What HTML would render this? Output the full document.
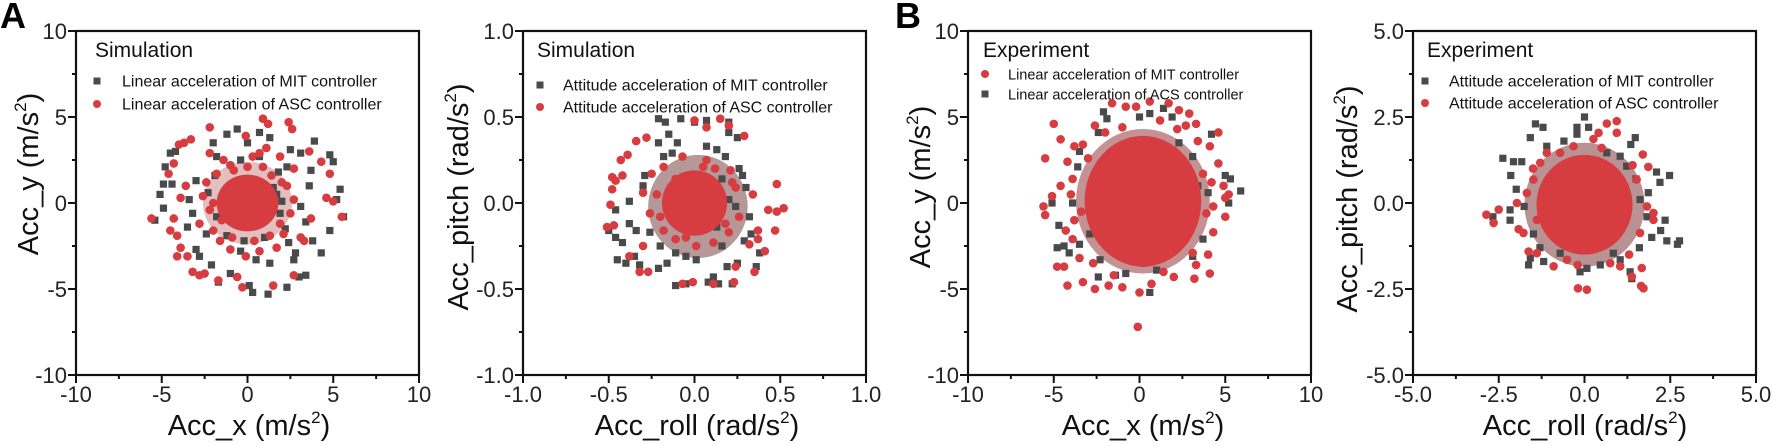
<!DOCTYPE html>
<html><head><meta charset="utf-8"><style>
html,body{margin:0;padding:0;background:#fff;}
svg{display:block;font-family:"Liberation Sans",Arial,sans-serif;}
</style></head><body>
<svg id="fig" width="1772" height="446" viewBox="0 0 1772 446" xmlns="http://www.w3.org/2000/svg">
<text x="0" y="28" font-size="36" font-weight="bold">A</text>
<text x="895" y="28" font-size="36" font-weight="bold">B</text>
</svg>
<script>
// ---------- data ----------
const p1Ticks = [-10,-5,0,5,10];
const p1TickLabels = ["-10","-5","0","5","10"];
const p1Mit = [[-0.6,4.3],[-1.2,4.0],[0.7,4.1],[1.3,3.8],[3.9,3.6],[-4.2,3.0],[-4.5,2.9],[-4.8,2.1],[-4.9,1.1],[-4.4,1.1],[-5.1,0.5],[-4.9,-0.3],[-5.4,-1.0],[5.0,2.4],[4.8,2.8],[5.4,0.8],[5.2,0.2],[5.6,-0.8],[4.3,-2.9],[3.8,-2.2],[4.8,-1.6],[3.4,-4.2],[3.0,-4.3],[2.3,-4.9],[1.2,-5.3],[0.3,-5.2],[0.1,-4.8],[-1.7,-4.6],[-1.0,-4.1],[-2.1,-3.6],[-3.0,-2.7],[-3.5,-1.4],[-3.4,0.2],[-3.2,-0.6],[-3.0,1.3],[-2.0,3.5],[-1.8,2.7],[2.5,3.1],[3.1,2.9],[2.3,2.1],[3.7,1.9],[3.6,1.0],[3.1,-0.2],[3.4,-1.1],[2.8,-2.9],[2.7,-3.3],[1.3,-3.5],[0.5,-3.3],[-0.4,-2.8],[-2.8,-3.1],[-2.4,-1.8],[-0.8,0.9],[1.5,0.9],[1.9,-0.6],[-1.8,-0.8],[-0.4,2.5],[0.7,2.7],[0,3.5],[1.7,0.5],[0.5,-1.2],[2.2,-1.5],[-1.2,-1.9],[1.0,-2.0],[-2.3,0.6],[1.8,1.8],[-1.9,1.6],[2.4,-2.3],[-0.2,-2.2],[2.0,0.1]];
const p1Asc = [[0.9,4.9],[1.2,4.6],[2.4,4.7],[2.6,4.3],[-2.2,4.4],[-0.1,3.9],[-3.3,3.7],[-3.7,3.5],[-4.0,3.4],[-4.3,2.3],[-4.6,1.7],[-3.6,1.0],[-3.9,0.3],[-5.6,-0.9],[-4.3,-0.9],[-4.5,-1.6],[-4.1,-1.9],[-3.9,-2.6],[-4.1,-3.1],[-3.5,-3.1],[-3.2,-4.0],[-2.8,-4.2],[-2.5,-4.1],[-1.7,-4.5],[-0.6,-4.3],[-0.3,-4.9],[1.5,-4.8],[2.7,-4.2],[3.6,3.0],[4.3,2.4],[4.8,1.7],[4.6,0.3],[5.0,0.1],[5.5,-0.8],[3.7,-0.9],[3.1,-2.0],[3.3,-2.2],[0.7,2.9],[1.1,3.2],[1.9,2.7],[2.7,2.0],[-2.6,0.4],[-2.8,-1.2],[-2.2,-0.4],[-1.6,-2.2],[-1.0,-2.7],[-0.1,-3.1],[0.7,-2.8],[1.7,-2.6],[2.1,-1.8],[2.7,0.2],[2.5,-0.6],[-0.8,1.9],[-1.8,1.7],[-2.2,2.9],[-1.4,2.5],[0,2.1],[0.3,2.7],[1.4,1.6],[2.0,1.2],[-2.0,-1.6],[0.4,-2.2],[1.3,-1.9],[-2.4,1.2],[-1.5,-1.0],[2.3,1.0],[-0.9,-2.0],[1.9,-1.2],[-2.0,0.0],[0.9,2.1],[-1.0,2.2]];
const p1Mid = [0,0,2.6,2.4];
const p1Core = [0,0,1.8,1.65];

const p2Ticks = [-1,-0.5,0,0.5,1];
const p2TickLabels = ["-1.0","-0.5","0.0","0.5","1.0"];
const p2Mit = [[-0.21,0.49],[-0.17,0.47],[-0.08,0.49],[0,0.47],[0.07,0.48],[0.2,0.47],[0.2,0.41],[0.25,0.38],[-0.15,0.40],[-0.21,0.35],[-0.1,0.35],[-0.29,0.16],[-0.3,0.1],[-0.38,0.01],[-0.46,-0.04],[-0.5,-0.16],[-0.46,-0.2],[-0.42,-0.23],[-0.38,-0.12],[-0.34,-0.16],[-0.45,-0.33],[-0.4,-0.35],[-0.35,-0.31],[-0.32,-0.36],[-0.21,-0.38],[-0.16,-0.35],[-0.11,-0.48],[-0.05,-0.47],[0.08,-0.46],[0.11,-0.43],[0.14,-0.47],[0.22,-0.47],[0.19,-0.37],[0.25,-0.35],[0.36,-0.37],[0.38,-0.29],[0.33,-0.18],[0.32,-0.08],[0.3,0.09],[0.28,0.16],[0.18,0.27],[0.13,0.31],[0.07,0.33],[-0.05,-0.31],[0.01,-0.33],[-0.11,-0.29],[0.16,-0.25],[0.2,0.02],[0.16,0.14],[-0.2,-0.25],[-0.26,-0.17],[-0.18,0.27],[-0.13,0.29],[0.13,-0.14],[0.24,-0.02],[0.26,0.2],[0.29,-0.22]];
const p2Asc = [[0,0.48],[0.07,0.44],[0.15,0.49],[0.2,0.45],[0.29,0.39],[-0.28,0.38],[-0.34,0.36],[-0.39,0.28],[-0.43,0.25],[-0.42,0.16],[-0.48,0.15],[-0.46,0.13],[-0.48,0.08],[-0.49,-0.01],[-0.51,-0.14],[-0.47,-0.13],[-0.38,-0.31],[-0.32,-0.4],[-0.27,-0.4],[-0.3,-0.25],[-0.07,-0.47],[-0.01,-0.46],[0.11,-0.47],[0.23,-0.46],[0.24,-0.37],[0.35,-0.4],[0.41,-0.28],[0.37,-0.21],[0.37,-0.16],[0.32,-0.24],[0.48,0.11],[0.47,-0.16],[0.48,-0.05],[0.52,-0.03],[0.43,-0.04],[0.34,0.05],[0.24,0.09],[0.21,0.19],[0.07,0.25],[-0.07,0.27],[-0.18,0.21],[-0.25,0.17],[-0.3,0.06],[-0.26,-0.06],[-0.18,-0.16],[-0.11,-0.21],[0.01,-0.25],[0.11,-0.23],[0.2,-0.17],[0.26,-0.08],[0.16,-0.02],[0.05,0.21],[-0.11,0.14],[-0.22,0.05],[0.22,0.12],[-0.2,-0.08],[0.12,0.2],[-0.05,-0.2],[0.18,-0.12]];
const p2Mid = [0.02,-0.02,0.29,0.3];
const p2Core = [0,0,0.19,0.19];

const p3Ticks = [-10,-5,0,5,10];
const p3TickLabels = ["-10","-5","0","5","10"];
const p3Mit = [[-0.2,5.6],[-0.8,5.6],[0.6,5.9],[1.7,5.8],[2.3,5.4],[2.9,5.2],[3.3,4.6],[4.6,4.1],[4.6,2.3],[4.9,1.0],[5.2,0.5],[5.0,-0.8],[4.0,-3.0],[4.1,-4.1],[3.2,-4.4],[2.0,-4.3],[0.7,-4.7],[0,-5.2],[-0.1,-7.2],[-1.0,-4.9],[-1.8,-4.8],[-2.6,-5.0],[-3.3,-4.6],[-4.2,-4.8],[-4.8,-3.7],[-4.4,-3.7],[-5.5,-0.7],[-5.6,-0.2],[-5.1,0.4],[-5.5,2.6],[-5.0,4.6],[-4.6,3.7],[-3.8,3.3],[-3.3,3.4],[-2.6,4.5],[-4.2,2.4],[-4.6,1.0],[-3.9,1.4],[-4.3,-1.6],[-3.9,-2.1],[-3.5,-3.2],[5.0,0.3],[4.3,-1.7],[3.9,-0.6],[3.7,1.7],[4.1,3.3],[2.7,4.5],[-1.6,5.8],[3.1,-2.9],[-2.7,-3.5],[-3.4,-0.5],[3.4,3.6],[-1.0,4.4],[1.2,4.8],[-3.0,2.6],[3.3,-3.6],[-1.5,-4.2],[1.4,-4.0],[-4.0,0.5],[4.2,1.2],[-3.8,-1.0],[4.3,-0.2],[-2.0,4.1],[2.2,4.3]];
const p3Asc = [[-2.1,5.3],[-1.9,4.9],[0,5.0],[0.6,5.2],[1.4,5.5],[1.9,5.0],[-2.4,4.1],[4.2,4.0],[5.0,1.6],[5.3,1.4],[5.9,0.7],[5.2,0],[4.0,0.6],[-5.1,0],[-4.7,-1.3],[-4.8,-2.6],[-4.4,-2.5],[-4.1,-2.9],[-3.5,-2.4],[-2.9,-1.8],[-2.4,-4.3],[-1.4,-4.2],[-0.8,-4.1],[0.6,-5.2],[1.0,-3.9],[2.0,-2.6],[3.1,-3.1],[-3.9,0],[-3.6,2.1],[-3.5,3.0],[-2.7,-0.6],[3.4,1.0],[3.1,2.7],[2.3,3.5],[-2.3,-3.3],[0.2,-3.5],[3.7,-2.1]];
const p3Mid = [0.2,0.1,3.9,4.2];
const p3Core = [0.2,0.1,3.4,3.8];

const p4Ticks = [-5,-2.5,0,2.5,5];
const p4TickLabels = ["-5.0","-2.5","0.0","2.5","5.0"];
const p4Mit = [[0,2.5],[-1.43,2.3],[-1.21,2.2],[-0.22,2.2],[0.12,2.2],[-1.58,1.9],[-0.22,2.0],[1.48,1.9],[1.35,1.7],[-2.38,1.3],[-2.07,1.2],[-1.83,1.2],[-2.15,0.8],[-1.99,0.4],[-2.17,-0.2],[-2.17,-0.5],[-2.67,-0.4],[-1.76,-0.1],[2.1,0.9],[2.2,0.6],[2.48,0.8],[2.35,-0.5],[2.22,-0.8],[1.96,-1.0],[2.4,-1.1],[2.77,-1.1],[2.71,-1.2],[-1.63,-1.8],[-1.58,-1.6],[-1.19,-1.7],[-0.13,-2.0],[0.07,-1.9],[0.46,-1.8],[1.33,-2.0],[1.38,-2.2],[1.04,-1.65],[1.62,0.1],[1.86,0.3],[-1.49,-0.9],[-1.1,1.65],[0.65,1.46],[1.04,1.36],[1.23,1.07],[-0.71,-1.46],[0.84,-1.46],[1.82,-0.4],[1.6,-1.3],[-1.3,-1.3],[-0.6,1.8],[1.5,0.7]];
const p4Asc = [[0.94,2.38],[0.65,2.31],[0.94,2.04],[0.41,2.04],[0.26,1.86],[1.7,1.41],[1.86,1.05],[-2.86,-0.34],[-2.65,-0.58],[-2.5,-0.19],[-1.97,0],[-1.92,-0.76],[-1.78,-0.87],[-1.63,-1.41],[-1.39,-1.46],[-0.19,-2.48],[0.07,-2.52],[1.67,-1.89],[1.65,-2.41],[1.72,-2.48],[1.38,-2.14],[2.01,-0.29],[2.01,-0.49],[1.82,-0.1],[-1.49,0.68],[-1.29,1.17],[-1.1,1.46],[-0.71,1.46],[-0.32,1.65],[1.52,0.68],[1.62,-0.87],[-0.9,-1.84],[-0.51,-1.65],[0.75,-1.75],[1.04,-1.84],[-1.68,0.29],[-1.39,-0.49],[0.5,1.6],[-0.2,-1.8],[1.4,1.1],[-1.5,1.0],[1.3,-1.5]];
const p4Mid = [0,-0.05,1.75,1.8];
const p4Core = [0,-0.05,1.4,1.45];

// ---------- drawing ----------
const NS = "http://www.w3.org/2000/svg";
const svg = document.getElementById("fig");
const GRAY = "#4a4a4a", RED = "#d63c40";
function mk(tag, attrs, parent){ const e=document.createElementNS(NS,tag); for(const k in attrs) e.setAttribute(k,attrs[k]); (parent||svg).appendChild(e); return e; }

function drawPanel(cfg){
  const g = mk("g",{});
  
  
  const L=cfg.left, R=cfg.left+343, T=31, B=375;
  const lo=cfg.ticks[0], hi=cfg.ticks[cfg.ticks.length-1];
  const sx=v=>L+(v-lo)/(hi-lo)*(R-L);
  const sy=v=>B-(v-lo)/(hi-lo)*(B-T);
  const plot = mk("g",{},g);
  
  
  function square(p){ const r=mk("rect",{x:sx(p[0])-3.6,y:sy(p[1])-3.6,width:7.2,height:7.2,fill:GRAY},plot);
    
     }
  function circle(p){ const c=mk("circle",{cx:sx(p[0]),cy:sy(p[1]),r:4.3,fill:RED},plot);
    
     }
  function core(c,col,op){ const e=mk("ellipse",{cx:sx(c[0]),cy:sy(c[1]),rx:Math.abs(sx(c[2])-sx(0)),ry:Math.abs(sy(0)-sy(c[3])),fill:col,opacity:op},plot);
    
     }
  if(cfg.mid) core(cfg.mid,cfg.midColor,cfg.midOpacity);
  cfg.squares.forEach(square);
  cfg.circles.forEach(circle);
  if(cfg.core) core(cfg.core,RED,1);
  const fr=mk("rect",{x:L,y:T,width:R-L,height:B-T,fill:"none",stroke:"#111","stroke-width":2.2},g);
  
  
  for(let i=0;i<cfg.ticks.length;i++){
    const v=cfg.ticks[i];
    mk("line",{x1:sx(v),x2:sx(v),y1:B,y2:B+8,stroke:"#111","stroke-width":2},g);
    mk("line",{x1:L,x2:L-8,y1:sy(v),y2:sy(v),stroke:"#111","stroke-width":2},g);
    const tx=mk("text",{x:sx(v),y:402,"font-size":22,"text-anchor":"middle",fill:"#222"},g);
    tx.textContent=cfg.labels[i];
    
    
    const ty=mk("text",{x:L-9,y:sy(v)+8,"font-size":22,"text-anchor":"end",fill:"#222"},g);
    ty.textContent=cfg.labels[i];
    
    
    if(i<cfg.ticks.length-1){
      const m=(v+cfg.ticks[i+1])/2;
      mk("line",{x1:sx(m),x2:sx(m),y1:B,y2:B+4,stroke:"#111","stroke-width":2},g);
      mk("line",{x1:L,x2:L-4,y1:sy(m),y2:sy(m),stroke:"#111","stroke-width":2},g);
    }
  }
  const xt=mk("text",{x:cfg.xTitleX,y:435,"font-size":29,"text-anchor":"middle",fill:"#111"},g);
  
  
  xt.innerHTML=cfg.xTitle+'<tspan dy="-12" font-size="17">2</tspan><tspan dy="12">)</tspan>';
  const yt=mk("text",{x:0,y:0,"font-size":29,"text-anchor":"middle",fill:"#111",transform:`translate(${cfg.yTitleX},${cfg.yTitleY}) rotate(-90)`},g);
  
  
  yt.innerHTML=cfg.yTitle+'<tspan dy="-12" font-size="17">2</tspan><tspan dy="12">)</tspan>';
  const lg=mk("g",{},g);
  
  
  const lt=mk("text",{x:cfg.lg.tx,y:cfg.lg.ty,"font-size":21,fill:"#111"},lg);
  lt.textContent=cfg.lg.title;
  
  
  cfg.lg.rows.forEach(r=>{
    if(r.kind==="sq") mk("rect",{x:cfg.lg.mx-3.5,y:r.y-3.5,width:7,height:7,fill:GRAY},lg);
    else mk("circle",{cx:cfg.lg.mx,cy:r.y,r:4,fill:RED},lg);
    const t=mk("text",{x:cfg.lg.textX,y:r.y+5.5,"font-size":cfg.lg.fs,fill:"#111"},lg);
    t.textContent=r.text;
    
    
  });
}

drawPanel({name:"panel-sim-linear",left:76,ticks:p1Ticks,labels:p1TickLabels,squares:p1Mit,circles:p1Asc,core:p1Core,mid:p1Mid,midColor:"#b0484b",midOpacity:0.35,
  xTitle:"Acc_x (m/s",xTitleX:249,yTitle:"Acc_y (m/s",yTitleX:38,yTitleY:174,
  lg:{title:"Simulation",tx:95,ty:57,mx:97,textX:122,fs:16,rows:[{kind:"sq",y:81,text:"Linear acceleration of MIT controller"},{kind:"ci",y:104,text:"Linear acceleration of ASC controller"}]}});
drawPanel({name:"panel-sim-attitude",left:523,ticks:p2Ticks,labels:p2TickLabels,squares:p2Mit,circles:p2Asc,core:p2Core,mid:p2Mid,midColor:"#7a4446",midOpacity:0.55,
  xTitle:"Acc_roll (rad/s",xTitleX:697,yTitle:"Acc_pitch (rad/s",yTitleX:468,yTitleY:197,
  lg:{title:"Simulation",tx:537,ty:57,mx:540,textX:563,fs:16,rows:[{kind:"sq",y:85,text:"Attitude acceleration of MIT controller"},{kind:"ci",y:107,text:"Attitude acceleration of ASC controller"}]}});
drawPanel({name:"panel-exp-linear",left:968,ticks:p3Ticks,labels:p3TickLabels,squares:p3Asc,circles:p3Mit,core:p3Core,mid:p3Mid,midColor:"#9c4a4c",midOpacity:0.6,
  xTitle:"Acc_x (m/s",xTitleX:1143,yTitle:"Acc_y (m/s",yTitleX:930,yTitleY:187,
  lg:{title:"Experiment",tx:983,ty:57,mx:985,textX:1008,fs:14.5,rows:[{kind:"ci",y:74,text:"Linear acceleration of MIT controller"},{kind:"sq",y:94,text:"Linear acceleration of ACS controller"}]}});
drawPanel({name:"panel-exp-attitude",left:1413,ticks:p4Ticks,labels:p4TickLabels,squares:p4Mit,circles:p4Asc,core:p4Core,mid:p4Mid,midColor:"#8a4a4c",midOpacity:0.6,
  xTitle:"Acc_roll (rad/s",xTitleX:1585,yTitle:"Acc_pitch (rad/s",yTitleX:1357,yTitleY:199,
  lg:{title:"Experiment",tx:1427,ty:57,mx:1425,textX:1449,fs:16,rows:[{kind:"sq",y:81,text:"Attitude acceleration of MIT controller"},{kind:"ci",y:103,text:"Attitude acceleration of ASC controller"}]}});
</script>
</body></html>
